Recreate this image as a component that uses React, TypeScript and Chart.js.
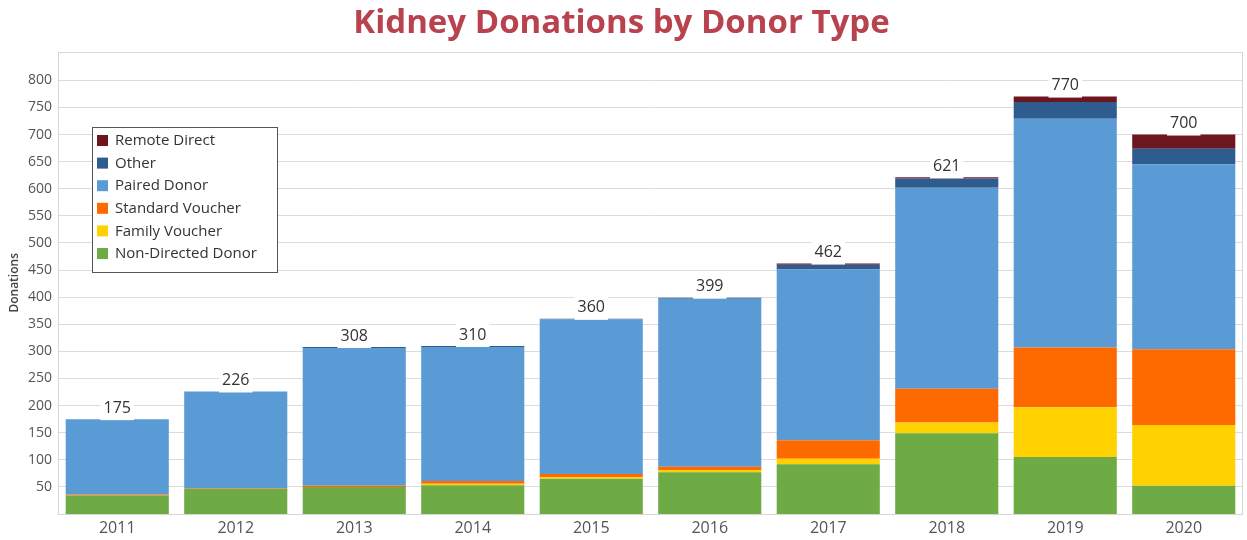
import React, { useEffect, useRef } from "react";
import { Chart, registerables } from "chart.js";

Chart.register(...registerables);

const years = ["2011", "2012", "2013", "2014", "2015", "2016", "2017", "2018", "2019", "2020"];
const nonDirected = [34, 46, 50, 53, 65, 77, 92, 149, 105, 52];
const familyVoucher = [0, 0, 0, 3, 3, 4, 10, 20, 92, 112];
const standardVoucher = [2, 1, 2, 5, 6, 6, 34, 62, 110, 140];
const pairedDonor = [139, 179, 254, 247, 285, 310, 315, 371, 422, 341];
const other = [0, 0, 2, 2, 1, 2, 9, 17, 31, 29];
const remoteDirect = [0, 0, 0, 0, 0, 0, 2, 2, 10, 26];
const totals = [175, 226, 308, 310, 360, 399, 462, 621, 770, 700];
const yTicks = [50, 100, 150, 200, 250, 300, 350, 400, 450, 500, 550, 600, 650, 700, 750, 800];

const FONT = "'Open Sans', 'Noto Sans', sans-serif";

const borderPlugin = {
  id: "areaBorder",
  beforeDatasetsDraw(chart: any) {
    const { ctx, chartArea: a } = chart;
    ctx.save();
    ctx.strokeStyle = "#d6d6d6";
    ctx.lineWidth = 1;
    ctx.strokeRect(Math.round(a.left) + 0.5, Math.round(a.top) + 0.5, Math.round(a.right - a.left) - 1, Math.round(a.bottom - a.top));
    ctx.restore();
  },
};

const totalsPlugin = {
  id: "totals",
  afterDatasetsDraw(chart: any) {
    const { ctx } = chart;
    const y = chart.scales.y;
    const x = chart.scales.x;
    ctx.save();
    ctx.font = `16px ${FONT}`;
    ctx.textAlign = "center";
    ctx.textBaseline = "middle";
    totals.forEach((t, i) => {
      const cx = x.getPixelForValue(i);
      const top = y.getPixelForValue(t);
      const label = String(t);
      const w = ctx.measureText(label).width + 6;
      ctx.fillStyle = "#ffffff";
      ctx.fillRect(cx - w / 2, top - 22, w, 23);
      ctx.fillStyle = "#333333";
      ctx.fillText(label, cx, top - 11);
    });
    ctx.restore();
  },
};

const legendPlugin = {
  id: "customLegend",
  afterDraw(chart: any) {
    const { ctx } = chart;
    const ds = chart.data.datasets.slice().reverse();
    const bx = 92, by = 127, bw = 185, bh = 145;
    ctx.save();
    ctx.fillStyle = "#ffffff";
    ctx.fillRect(bx, by, bw, bh);
    ctx.strokeStyle = "#555555";
    ctx.lineWidth = 1;
    ctx.strokeRect(bx + 0.5, by + 0.5, bw, bh);
    ctx.font = `15px ${FONT}`;
    ctx.textBaseline = "middle";
    ctx.textAlign = "left";
    ds.forEach((d: any, i: number) => {
      const cy = 141 + i * 22.6;
      ctx.fillStyle = d.backgroundColor;
      ctx.fillRect(97, cy - 6, 11, 11);
      ctx.fillStyle = "#333333";
      ctx.fillText(d.label, 115, cy);
    });
    ctx.restore();
  },
};

export default function App() {
  const ref = useRef<HTMLCanvasElement | null>(null);
  useEffect(() => {
    document.body.style.margin = "0";
    const c = new Chart(ref.current as HTMLCanvasElement, {
      type: "bar",
      data: {
        labels: years,
        datasets: [
          { label: "Non-Directed Donor", data: nonDirected, backgroundColor: "#6FAB45" },
          { label: "Family Voucher", data: familyVoucher, backgroundColor: "#FFD100" },
          { label: "Standard Voucher", data: standardVoucher, backgroundColor: "#FF6A00" },
          { label: "Paired Donor", data: pairedDonor, backgroundColor: "#5B9BD5" },
          { label: "Other", data: other, backgroundColor: "#2F5C8F" },
          { label: "Remote Direct", data: remoteDirect, backgroundColor: "#6E1620" },
        ],
      },
      options: {
        animation: false,
        responsive: false,
        maintainAspectRatio: false,
        layout: { padding: { left: 0, right: 4, top: 0, bottom: 0 } },
        datasets: { bar: { barPercentage: 0.87, categoryPercentage: 1, borderWidth: 0 } },
        plugins: {
          legend: { display: false },
          tooltip: { enabled: false },
          title: {
            display: true,
            text: "Kidney Donations by Donor Type",
            color: "#B8434F",
            font: { family: FONT, size: 33, weight: "bold" },
            padding: { top: 4, bottom: 8 },
          },
        },
        scales: {
          x: {
            stacked: true,
            grid: { display: false },
            border: { display: false },
            ticks: { color: "#555555", font: { family: FONT, size: 16 }, padding: -3 },
            afterFit: (s: any) => { s.height = 26; },
          },
          y: {
            stacked: true,
            min: 0,
            max: 853,
            afterBuildTicks: (s: any) => { s.ticks = yTicks.map((v) => ({ value: v })); },
            grid: { color: "#dcdcdc", drawTicks: false },
            border: { display: false },
            ticks: { color: "#555555", font: { family: FONT, size: 14 }, padding: 6 },
            title: {
              display: true,
              text: "Donations",
              color: "#444444",
              font: { family: FONT, size: 12, weight: "600" },
              padding: { top: 7, bottom: 0 },
            },
            afterFit: (s: any) => { s.width = 58; },
          },
        },
      },
      plugins: [borderPlugin, totalsPlugin, legendPlugin],
    });
    return () => c.destroy();
  }, []);
  return (
    <div style={{ width: 1247, height: 540 }}>
      <canvas ref={ref} width={1247} height={540} style={{ display: "block" }} />
    </div>
  );
}
